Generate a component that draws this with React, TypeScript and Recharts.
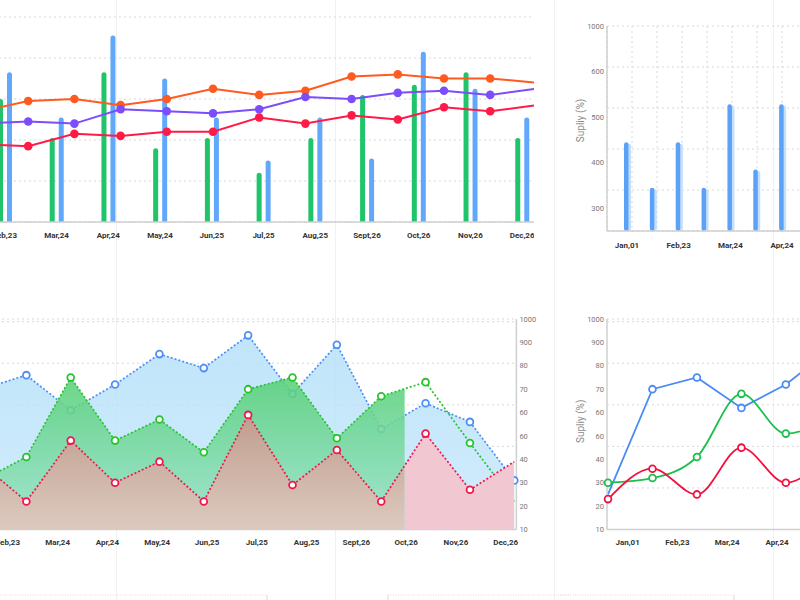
import React from 'react';
import {
  BarChart, Bar, LineChart, Line, ComposedChart, Area,
  XAxis, YAxis, CartesianGrid,
} from 'recharts';

const MONTHS = ['Jan,01', 'Feb,23', 'Mar,24', 'Apr,24', 'May,24', 'Jun,25', 'Jul,25', 'Aug,25', 'Sept,26', 'Oct,26', 'Nov,26', 'Dec,26'];

// top left: paired bars (Feb..Dec are on screen)
const BAR_MONTHS = MONTHS.slice(1);
const GREEN_BARS = [60, 41, 73, 36, 41, 24, 41, 62, 67, 73, 41];
const BLUE_BARS = [73, 51, 91, 70, 51, 30, 51, 31, 83, 65, 51];

// top left: trend lines drawn over the bars
const ORANGE_LINE = [54, 59, 60, 57, 60, 65, 62, 64, 71, 72, 70, 70, 68];
const PURPLE_LINE = [48, 49, 48, 55, 54, 53, 55, 61, 60, 63, 64, 62, 65];
const RED_LINE = [38, 37, 43, 42, 44, 44, 51, 48, 52, 50, 56, 54, 57];

// top right: supply bars
const SUPPLY_TICKS = ['Jan,01', '', 'Feb,23', '', 'Mar,24', '', 'Apr,24'];
const SUPPLY = [445, 345, 445, 345, 528, 385, 528];
const SUPPLY_AXIS = [300, 400, 500, 600, 700];
const SUPPLY_AXIS_LABELS = ['300', '400', '500', '600', '1000'];

// percent axis of the bottom charts
const PCT_AXIS = [10, 20, 30, 40, 50, 60, 70, 80, 90, 100];
const PCT_AXIS_LABELS = ['10', '20', '30', '40', '60', '60', '70', '80', '900', '1000'];

// bottom left: layered areas
const AREA_BLUE = [70, 76, 61, 72, 85, 79, 93, 68, 89, 53, 64, 56, 31];
const AREA_GREEN = [31, 41, 75, 48, 57, 43, 70, 75, 49, 67, 73, 47, 22];
const AREA_RED = [38, 22, 48, 30, 39, 22, 59, 29, 44, 22, 51, 27, 39];

// bottom right: supply lines
const SUP_BLUE = [25, 70, 75, 62, 72, 87];
const SUP_GREEN = [30, 32, 41, 68, 51, 58];
const SUP_RED = [23, 36, 25, 45, 30, 43];

const STEPS_10 = [0, 1, 2, 3, 4, 5, 6, 7, 8, 9, 10];
const STEPS_8 = [0, 1, 2, 3, 4, 5, 6, 7, 8];
const TL_TICKS = [0, 10, 20, 30, 40, 50, 60, 70, 80, 90, 100];

const barData = BAR_MONTHS.map((month, i) => ({ month, green: GREEN_BARS[i], blue: BLUE_BARS[i] }));
const trendData = ORANGE_LINE.map((orange, idx) => ({ idx, orange, purple: PURPLE_LINE[idx], red: RED_LINE[idx] }));
const supplyData = SUPPLY.map((supply, slot) => ({ slot, supply }));
const areaData = AREA_BLUE.map((blue, idx) => ({ idx, blue, green: AREA_GREEN[idx], red: AREA_RED[idx] }));
const supLineData = SUP_BLUE.map((blue, idx) => ({ idx, blue, green: SUP_GREEN[idx], red: SUP_RED[idx] }));

const FONT = 'Roboto, "Liberation Sans", sans-serif';
const MONTH_TICK = { fontSize: 8, fontWeight: 700, fill: '#333', fontFamily: FONT };
const VALUE_TICK = { fontSize: 7.5, fill: '#777', fontFamily: FONT };
const AXIS_LINE = { stroke: '#cfcfcf', strokeWidth: 1.5 };
const GRID = { stroke: '#d8d8d8', strokeDasharray: '2 3' };

// axes that only carry ticks or grid lines read a key that is not in the data,
// so their domain comes from the domain prop alone
const FREE = 'free';

const pctLabel = (v: number) => PCT_AXIS_LABELS[PCT_AXIS.indexOf(v)];
const monthLabel = (v: number) => MONTHS[v];

const filledDot = (color: string, skip: number[]) => (p: any) => {
  if (skip.includes(p.index)) return <g key={`d-${p.index}`} />;
  return <circle key={`d-${p.index}`} cx={p.cx} cy={p.cy} r={4.3} fill={color} />;
};

const hollowDot = (color: string, skip: number[]) => (p: any) => {
  if (skip.includes(p.index)) return <g key={`h-${p.index}`} />;
  return <circle key={`h-${p.index}`} cx={p.cx} cy={p.cy} r={3.4} fill="#fff" stroke={color} strokeWidth={1.8} />;
};

const axisTitle = (shift: number) => (props: any) => {
  const vb = props.viewBox || {};
  const cx = vb.x + vb.width / 2;
  const cy = vb.y + vb.height / 2 + shift;
  return (
    <text x={cx} y={cy} transform={`rotate(-90 ${cx} ${cy})`} textAnchor="middle" dominantBaseline="central"
      fontSize={10} fill="#8a8a8a" fontFamily={FONT}>
      Supliy (%)
    </text>
  );
};

const SupplyBar = (props: any) => {
  const { x, y, width, height } = props;
  if (!height || height <= 0) return <g />;
  return (
    <g>
      <rect x={x + 2} y={y + 1.5} width={width - 1} height={height - 1.5} rx={2} fill="#c4defb" />
      <rect x={x} y={y} width={width - 1.5} height={height} rx={2.25} fill="#5ba1f6" />
    </g>
  );
};

// clip boxes for the area fills: the green fill stops at Oct, the red fill turns pink after it
const FillDefs = () => (
  <defs>
    <linearGradient id="greenFill" x1="0" y1="0" x2="0" y2="1">
      <stop offset="0" stopColor="#58d078" />
      <stop offset="1" stopColor="#9fe4cf" />
    </linearGradient>
    <linearGradient id="brownFill" x1="0" y1="0" x2="0" y2="1">
      <stop offset="0" stopColor="#c09d8e" />
      <stop offset="1" stopColor="#dccabf" />
    </linearGradient>
    <clipPath id="beforeOct" clipPathUnits="objectBoundingBox">
      <rect x={0} y={0} width={0.794} height={1} />
    </clipPath>
    <clipPath id="afterOct" clipPathUnits="objectBoundingBox">
      <rect x={0.794} y={0} width={0.206} height={1} />
    </clipPath>
  </defs>
);

// the bottom left series are stacked as separate layers so each fill covers the lines below it
const AreaLayer = ({ children }: { children: React.ReactNode }) => (
  <div style={{ position: 'absolute', left: -18.4, top: 309 }}>
    <ComposedChart width={556.4} height={250.5} data={areaData} margin={{ top: 10, right: 22, bottom: 30, left: 0 }}>
      <FillDefs />
      <XAxis xAxisId="pts" hide type="number" dataKey="idx" domain={[0, 12]} padding={{ left: 0, right: 2.1 }} />
      <YAxis hide domain={[10, 100]} allowDataOverflow />
      {children}
    </ComposedChart>
  </div>
);

// only the top edge of the next row of charts shows at the bottom of the page
const StubChart = ({ left, plotWidth, side }: { left: number; plotWidth: number; side: 'left' | 'right' }) => (
  <div style={{ position: 'absolute', left, top: 590 }}>
    <ComposedChart width={plotWidth + 14} height={130} data={[]} margin={{ top: 5, right: 0, bottom: 0, left: 0 }}>
      <CartesianGrid vertical={false} xAxisId="x" yAxisId="gy" stroke="#dcdcdc" strokeDasharray="1 1.5" />
      <XAxis xAxisId="x" hide type="number" dataKey={FREE} domain={[0, 1]} />
      <YAxis yAxisId="gy" hide dataKey={FREE} domain={[0, 10]} ticks={STEPS_10} />
      <YAxis orientation={side} width={14} dataKey={FREE} domain={[10, 100]} ticks={PCT_AXIS} tickFormatter={pctLabel}
        tickLine={false} tickSize={0} tickMargin={1.5} axisLine={{ stroke: '#cfcfcf', strokeWidth: 0.8 }}
        tick={{ fontSize: 4.5, fill: '#888', fontFamily: FONT }} interval={0} />
    </ComposedChart>
  </div>
);

const App: React.FC = () => {
  return (
    <div style={{ position: 'absolute', left: 0, top: 0, width: 800, height: 600, overflow: 'hidden', background: '#fff', fontFamily: FONT }}>
      {[116, 335, 554, 773].map((x) => (
        <div key={x} style={{ position: 'absolute', left: x, top: 0, width: 1, height: 600, background: '#f1f1f1' }} />
      ))}

      {/* top left: bars + trend lines */}
      <div style={{ position: 'absolute', left: 0, top: 0, width: 534, height: 260, overflow: 'hidden' }}>
        <div style={{ position: 'absolute', left: -21.5, top: 0 }}>
          <BarChart width={569} height={252} data={barData} margin={{ top: 17, right: 0, bottom: 0, left: 0 }} barSize={5} barGap={4}>
            <CartesianGrid vertical={false} {...GRID} />
            <XAxis dataKey="month" height={30} tickLine={false} tickMargin={4} axisLine={AXIS_LINE} tick={MONTH_TICK} interval={0} />
            <YAxis hide domain={[0, 100]} ticks={TL_TICKS} />
            <Bar dataKey="green" fill="#1fc46b" radius={[2.5, 2.5, 0, 0]} isAnimationActive={false} />
            <Bar dataKey="blue" fill="#62a8fa" radius={[2.5, 2.5, 0, 0]} isAnimationActive={false} />
          </BarChart>
        </div>
        <div style={{ position: 'absolute', left: -18.2, top: 0 }}>
          <LineChart width={554.4} height={222} data={trendData} margin={{ top: 17, right: 0, bottom: 0, left: 0 }}>
            <XAxis hide type="number" dataKey="idx" domain={[0, 12]} />
            <YAxis hide domain={[0, 100]} />
            <Line type="linear" dataKey="orange" stroke="#ff5a1f" strokeWidth={2} dot={filledDot('#ff5a1f', [12])} activeDot={false} isAnimationActive={false} />
            <Line type="linear" dataKey="purple" stroke="#7b4dfb" strokeWidth={2} dot={filledDot('#7b4dfb', [12])} activeDot={false} isAnimationActive={false} />
            <Line type="linear" dataKey="red" stroke="#ff1a48" strokeWidth={2} dot={filledDot('#ff1a48', [12])} activeDot={false} isAnimationActive={false} />
          </LineChart>
        </div>
      </div>

      {/* top right: supply bars */}
      <div style={{ position: 'absolute', left: 553.7, top: 16 }}>
        <BarChart width={253} height={245} data={supplyData} margin={{ top: 10, right: 0, bottom: 0, left: 0 }}>
          <CartesianGrid xAxisId="gx" yAxisId="gy" {...GRID} />
          <XAxis xAxisId="gx" hide type="number" dataKey={FREE} domain={[0, 8]} ticks={STEPS_8} allowDataOverflow />
          <YAxis yAxisId="gy" hide dataKey={FREE} domain={[0, 10]} ticks={STEPS_10} allowDataOverflow />
          <XAxis dataKey="slot" tickFormatter={(i: number) => SUPPLY_TICKS[i]} padding={{ left: 7, right: 12 }} height={30}
            tickLine={false} tickMargin={5} axisLine={AXIS_LINE} tick={MONTH_TICK} interval={0} />
          <YAxis width={53} domain={[250, 700]} ticks={SUPPLY_AXIS} tickFormatter={(v: number) => SUPPLY_AXIS_LABELS[SUPPLY_AXIS.indexOf(v)]}
            tickLine={false} tickSize={0} tickMargin={3} axisLine={AXIS_LINE} tick={VALUE_TICK} interval={0}
            allowDataOverflow label={{ content: axisTitle(-8) }} />
          <Bar dataKey="supply" barSize={6} shape={SupplyBar} isAnimationActive={false} />
        </BarChart>
      </div>

      {/* bottom left: axes, grid and the blue layer */}
      <div style={{ position: 'absolute', left: -18.4, top: 309 }}>
        <ComposedChart width={556.4} height={250.5} data={areaData} margin={{ top: 10, right: 0, bottom: 0, left: 0 }}>
          <defs>
            <linearGradient id="blueFill" x1="0" y1="0" x2="0" y2="1">
              <stop offset="0" stopColor="#b3dff9" />
              <stop offset="1" stopColor="#c6e8fb" />
            </linearGradient>
          </defs>
          <CartesianGrid vertical={false} xAxisId="lbl" yAxisId="gy" {...GRID} />
          <XAxis xAxisId="pts" hide type="number" dataKey="idx" domain={[0, 12]} padding={{ left: 0, right: 2.1 }} />
          <XAxis xAxisId="lbl" type="number" dataKey={FREE} domain={[1, 11]} ticks={[1, 2, 3, 4, 5, 6, 7, 8, 9, 10, 11]} tickFormatter={monthLabel}
            padding={{ left: 25.9, right: 10.7 }} height={30} tickLine={false} tickMargin={4} axisLine={AXIS_LINE}
            tick={MONTH_TICK} interval={0} allowDataOverflow />
          <YAxis yAxisId="gy" hide dataKey={FREE} domain={[0, 10]} ticks={STEPS_10} padding={{ top: 2.7, bottom: 0 }} allowDataOverflow />
          <YAxis orientation="right" width={22} domain={[10, 100]} ticks={PCT_AXIS} tickFormatter={pctLabel}
            tickLine={false} tickSize={0} tickMargin={3} axisLine={AXIS_LINE} tick={VALUE_TICK} interval={0} allowDataOverflow />
          <Area xAxisId="pts" type="linear" dataKey="blue" stroke="none" fill="url(#blueFill)" fillOpacity={0.82}
            dot={false} activeDot={false} isAnimationActive={false} />
          <Line xAxisId="pts" type="linear" dataKey="blue" stroke="#4d8ef7" strokeWidth={1.7} strokeDasharray="2 2"
            dot={hollowDot('#4d8ef7', [])} activeDot={false} isAnimationActive={false} />
        </ComposedChart>
      </div>

      {/* bottom left: green layer */}
      <AreaLayer>
        <Area xAxisId="pts" type="linear" dataKey="green" stroke="none" fill="url(#greenFill)" fillOpacity={0.88} clipPath="url(#beforeOct)"
          dot={false} activeDot={false} isAnimationActive={false} />
        <Line xAxisId="pts" type="linear" dataKey="green" stroke="#27c42d" strokeWidth={1.7} strokeDasharray="2 2"
          dot={hollowDot('#27c42d', [12])} activeDot={false} isAnimationActive={false} />
      </AreaLayer>

      {/* bottom left: red layer */}
      <AreaLayer>
        <Area xAxisId="pts" type="linear" dataKey="red" stroke="none" fill="url(#brownFill)" fillOpacity={1} clipPath="url(#beforeOct)"
          dot={false} activeDot={false} isAnimationActive={false} />
        <Area xAxisId="pts" type="linear" dataKey="red" stroke="none" fill="#f1c8d2" fillOpacity={1} clipPath="url(#afterOct)"
          dot={false} activeDot={false} isAnimationActive={false} />
        <Line xAxisId="pts" type="linear" dataKey="red" stroke="#f0164e" strokeWidth={1.7} strokeDasharray="2 2"
          dot={hollowDot('#f0164e', [12])} activeDot={false} isAnimationActive={false} />
      </AreaLayer>

      {/* bottom right: supply lines */}
      <div style={{ position: 'absolute', left: 553.7, top: 309 }}>
        <ComposedChart width={276.3} height={250.5} data={supLineData} margin={{ top: 10, right: 0, bottom: 0, left: 0 }}>
          <CartesianGrid vertical={false} xAxisId="lbl" yAxisId="gy" {...GRID} />
          <XAxis xAxisId="pts" hide type="number" dataKey="idx" domain={[0, 5]} padding={{ left: 1, right: 0 }} />
          <XAxis xAxisId="lbl" type="number" dataKey={FREE} domain={[0, 3]} ticks={[0, 1, 2, 3]} tickFormatter={monthLabel}
            padding={{ left: 20.6, right: 53.3 }} height={30} tickLine={false} tickMargin={4} axisLine={AXIS_LINE}
            tick={MONTH_TICK} interval={0} allowDataOverflow />
          <YAxis yAxisId="gy" hide dataKey={FREE} domain={[0, 10]} ticks={STEPS_10} padding={{ top: 2.7, bottom: 0 }} allowDataOverflow />
          <YAxis width={53} domain={[10, 100]} ticks={PCT_AXIS} tickFormatter={pctLabel}
            tickLine={false} tickSize={0} tickMargin={3} axisLine={AXIS_LINE} tick={VALUE_TICK} interval={0}
            allowDataOverflow label={{ content: axisTitle(-3) }} />
          <Line xAxisId="pts" type="linear" dataKey="blue" stroke="#4a8bf5" strokeWidth={1.8}
            dot={hollowDot('#4a8bf5', [0])} activeDot={false} isAnimationActive={false} />
          <Line xAxisId="pts" type="monotone" dataKey="green" stroke="#1dbf4f" strokeWidth={1.8}
            dot={hollowDot('#1dbf4f', [])} activeDot={false} isAnimationActive={false} />
          <Line xAxisId="pts" type="monotone" dataKey="red" stroke="#f3123f" strokeWidth={1.8}
            dot={hollowDot('#f3123f', [])} activeDot={false} isAnimationActive={false} />
        </ComposedChart>
      </div>

      <StubChart left={0} plotWidth={267} side="right" />
      <StubChart left={374} plotWidth={182} side="left" />
      <StubChart left={560} plotWidth={174} side="right" />
    </div>
  );
};

export default App;
